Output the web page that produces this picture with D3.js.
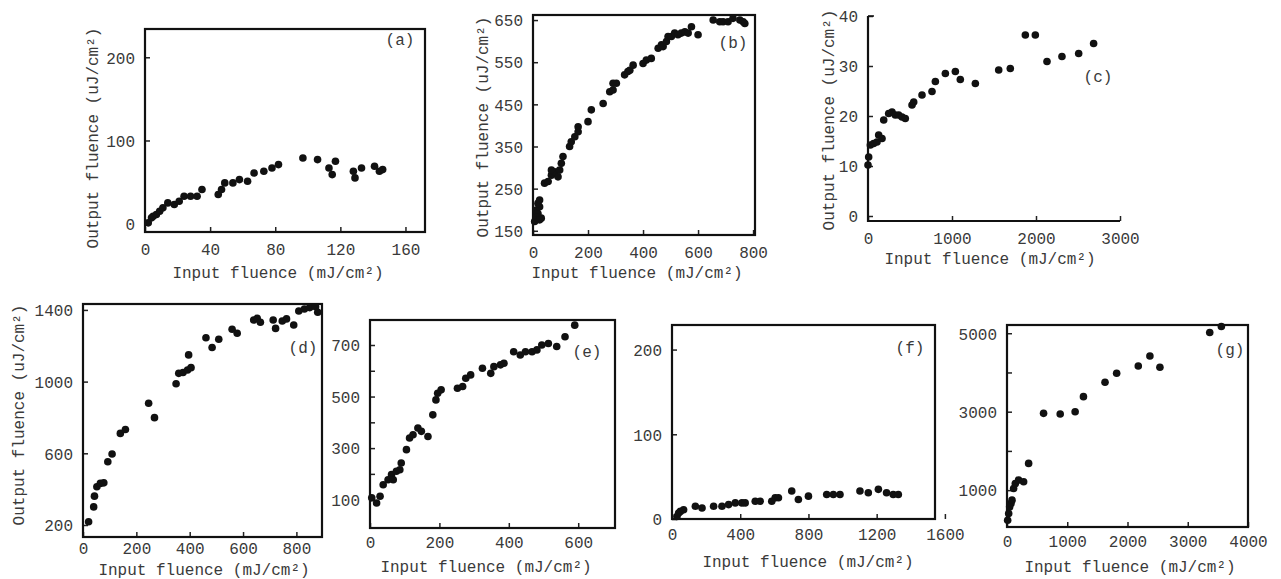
<!DOCTYPE html>
<html>
<head>
<meta charset="utf-8">
<script src="https://cdn.jsdelivr.net/npm/d3@7"></script>
<style>
  body { margin: 0; background: #fff; }
  svg text { font-family: "Liberation Mono", "DejaVu Sans Mono", monospace; fill: #3a3a3a; }
</style>
</head>
<body>
<svg id="chart" width="1281" height="579"></svg>
<script>

// -- DATA

var aX = [2, 4, 5, 7, 9, 11, 14, 18, 21, 24, 28, 32, 35, 45, 47, 49, 54, 58, 63, 67, 73, 78, 82, 97, 106, 113, 115, 117, 128, 129, 133, 141, 144, 146];
var aY = [1, 7, 9, 11, 15, 19, 25, 23, 27, 33, 33, 33, 41, 35, 41, 49, 49, 53, 51, 61, 63, 67, 71, 79, 77, 67, 59, 75, 63, 55, 67, 69, 63, 65];
var aXTicks = [0, 40, 80, 120, 160];
var aYTicks = [0, 100, 200];

var bX = [6, 12, 18, 12, 24, 18, 24, 30, 24, 42, 55, 67, 79, 91, 97, 67, 103, 109, 133, 139, 152, 164, 164, 200, 212, 255, 279, 291, 303, 291, 333, 345, 352, 364, 400, 412, 430, 455, 467, 473, 485, 491, 503, 515, 527, 539, 552, 564, 576, 600, 655, 679, 691, 709, 727, 752, 764, 770];
var bY = [172, 184, 191, 199, 207, 215, 223, 180, 176, 263, 267, 282, 290, 278, 294, 294, 310, 326, 350, 361, 373, 385, 397, 409, 437, 452, 480, 484, 500, 500, 520, 528, 531, 543, 547, 555, 559, 583, 591, 587, 599, 611, 611, 619, 615, 619, 622, 619, 634, 615, 650, 646, 646, 646, 654, 650, 646, 642];
var bXTicks = [0, 200, 400, 600, 800];
var bYTicks = [150, 250, 350, 450, 550, 650];

var cX = [0, 8, 28, 67, 107, 127, 167, 187, 246, 286, 325, 365, 405, 444, 524, 544, 643, 762, 802, 921, 1040, 1099, 1278, 1556, 1694, 1873, 1992, 2131, 2309, 2508, 2686];
var cY = [10.2, 11.8, 14.2, 14.5, 14.8, 16.2, 15.5, 19.2, 20.5, 20.8, 20.2, 20.2, 19.8, 19.5, 22.2, 22.8, 24.2, 24.9, 26.9, 28.5, 28.9, 27.3, 26.5, 29.2, 29.5, 36.2, 36.2, 30.9, 31.9, 32.5, 34.5];
var cXTicks = [0, 1000, 2000, 3000];
var cYTicks = [0, 10, 20, 30, 40];

var dX = [21, 40, 43, 52, 65, 78, 93, 109, 140, 159, 246, 268, 349, 359, 375, 392, 405, 396, 461, 484, 509, 559, 578, 640, 653, 665, 713, 722, 747, 763, 790, 809, 830, 850, 872, 880];
var dY = [218, 301, 361, 413, 432, 435, 553, 596, 711, 733, 879, 799, 988, 1046, 1051, 1065, 1078, 1149, 1245, 1190, 1236, 1292, 1270, 1344, 1353, 1331, 1344, 1297, 1338, 1350, 1316, 1394, 1405, 1413, 1418, 1387];
var dXTicks = [0, 200, 400, 600, 800];
var dYTicks = [200, 600, 1000, 1400];

var eX = [5, 19, 29, 38, 52, 62, 67, 76, 86, 90, 105, 114, 124, 138, 148, 167, 181, 190, 195, 205, 252, 267, 276, 290, 324, 348, 357, 376, 386, 414, 433, 448, 467, 481, 495, 514, 538, 562, 590];
var eY = [107, 87, 113, 158, 177, 197, 177, 210, 216, 242, 294, 339, 352, 378, 365, 345, 429, 487, 513, 526, 532, 539, 571, 584, 610, 590, 616, 623, 629, 674, 661, 674, 674, 681, 700, 706, 694, 732, 777];
var eXTicks = [0, 200, 400, 600];
var eYTicks = [100, 200, 300, 400, 500, 600, 700];
var eYLabels = ["100", "", "300", "", "500", "", "700"];

var fX = [29, 39, 49, 68, 137, 176, 244, 293, 332, 371, 410, 429, 488, 517, 585, 605, 624, 702, 741, 800, 907, 946, 985, 1102, 1151, 1210, 1258, 1297, 1327];
var fY = [3, 7, 9, 11, 15, 13, 15, 15, 17, 19, 19, 19, 21, 21, 21, 25, 25, 33, 23, 27, 29, 29, 29, 33, 31, 35, 31, 29, 29];
var fXTicks = [0, 400, 800, 1200, 1600];
var fYTicks = [0, 100, 200];

var gX = [11, 28, 44, 66, 83, 110, 138, 193, 276, 359, 607, 883, 1131, 1269, 1627, 1820, 2179, 2372, 2538, 3365, 3558];
var gY = [234, 404, 574, 660, 745, 1043, 1170, 1256, 1213, 1681, 2958, 2941, 3000, 3383, 3749, 3979, 4166, 4421, 4132, 5017, 5170];
var gXTicks = [0, 1000, 2000, 3000, 4000];
var gYTicks = [1000, 2000, 3000, 4000, 5000];
var gYLabels = ["1000", "", "3000", "", "5000"];

var X_TITLE = "Input fluence (mJ/cm\u00b2)";
var Y_TITLE = "Output fluence (uJ/cm\u00b2)";

// -- LAYOUT (pixel boxes of each panel in the figure)

var panels = [
  {name: "(a)", x: aX, y: aY, xt: aXTicks, yt: aYTicks, box: [145, 425, 29, 232], xd: [0, 172], yd: [-10, 234],
    frame: true, lab: [400, 45], xTitle: [278, 272], yTitle: [92, 138], pad: 12},
  {name: "(b)", x: bX, y: bY, xt: bXTicks, yt: bYTicks, box: [533, 755, 15, 235], xd: [0, 807], yd: [140, 662],
    frame: true, lab: [733, 48], xTitle: [637, 272], yTitle: [482, 127], pad: 12},
  {name: "(c)", x: cX, y: cY, xt: cXTicks, yt: cYTicks, box: [868, 1120, 16, 221], xd: [0, 3000], yd: [-1, 40],
    frame: false, lab: [1098, 82], xTitle: [990, 258], yTitle: [828, 120], pad: 12},
  {name: "(d)", x: dX, y: dY, xt: dXTicks, yt: dYTicks, box: [83, 322, 304, 537], xd: [0, 896], yd: [133, 1433],
    frame: true, lab: [303, 353], xTitle: [204, 569], yTitle: [18, 415], pad: 6},
  {name: "(e)", x: eX, y: eY, xt: eXTicks, yt: eYTicks, yl: eYLabels, box: [370, 615, 320, 528], xd: [0, 706], yd: [-10, 797],
    frame: true, lab: [587, 357], xTitle: [486, 566], pad: 9},
  {name: "(f)", x: fX, y: fY, xt: fXTicks, yt: fYTicks, box: [672, 935, 325, 519], xd: [0, 1542], yd: [0, 229],
    frame: true, lab: [910, 353], xTitle: [808, 561], pad: 10},
  {name: "(g)", x: gX, y: gY, xt: gXTicks, yt: gYTicks, yl: gYLabels, box: [1007, 1248, 325, 527], xd: [0, 4000], yd: [60, 5210],
    frame: true, lab: [1230, 355], xTitle: [1130, 566], pad: 9}
];

var svg = d3.select("#chart");

function drawPanel(p) {
  var l = p.box[0], r = p.box[1], t = p.box[2], b = p.box[3];
  var x = d3.scaleLinear().domain(p.xd).range([l, r]);
  var y = d3.scaleLinear().domain(p.yd).range([b, t]);
  var g = svg.append("g");

  // axes, ticks pointing inward
  var xAxis = d3.axisBottom(x).tickValues(p.xt).tickSizeInner(-5).tickSizeOuter(0).tickPadding(p.pad).tickFormat(d3.format("d"));
  var yLabels = p.yl;
  var yAxis = d3.axisLeft(y).tickValues(p.yt).tickSizeInner(-5).tickSizeOuter(0).tickPadding(10)
    .tickFormat(function(d, i) { return yLabels ? yLabels[i] : String(d); });

  var gx = g.append("g").attr("transform", "translate(0," + b + ")").call(xAxis);
  var gy = g.append("g").attr("transform", "translate(" + l + ",0)").call(yAxis);
  [gx, gy].forEach(function(a) {
    a.select(".domain").remove();
    a.selectAll(".tick line").attr("stroke", "#222").attr("stroke-width", 1.5);
    a.selectAll("text").style("font-size", "16px").attr("fill", "#3a3a3a");
  });
  gy.selectAll("text").attr("dy", "0.36em");

  // frame / axis lines
  if (p.frame) {
    g.append("rect").attr("x", l).attr("y", t).attr("width", r - l).attr("height", b - t)
      .attr("fill", "none").attr("stroke", "#111").attr("stroke-width", 2.2);
  } else {
    g.append("path").attr("d", "M" + l + "," + t + "V" + b + "H" + r)
      .attr("fill", "none").attr("stroke", "#111").attr("stroke-width", 2.2);
    g.append("line").attr("x1", l).attr("x2", l + 6).attr("y1", t).attr("y2", t).attr("stroke", "#111").attr("stroke-width", 1.5);
  }

  // points
  g.selectAll("circle.pt")
    .data(p.x.map(function(v, i) { return [v, p.y[i]]; }))
    .enter()
    .append("circle")
    .attr("class", "pt")
    .attr("cx", function(d) { return x(d[0]); })
    .attr("cy", function(d) { return y(d[1]); })
    .attr("r", 3.8)
    .attr("fill", "#111");

  // panel label
  g.append("text").attr("x", p.lab[0]).attr("y", p.lab[1]).attr("text-anchor", "middle")
    .style("font-size", "16px").text(p.name);

  // titles
  g.append("text").attr("x", p.xTitle[0]).attr("y", p.xTitle[1]).attr("text-anchor", "middle")
    .attr("dy", "0.35em").style("font-size", "16px").text(X_TITLE);
  if (p.yTitle) {
    g.append("text").attr("text-anchor", "middle").attr("dy", "0.35em")
      .attr("transform", "translate(" + p.yTitle[0] + "," + p.yTitle[1] + ") rotate(-90)")
      .style("font-size", "16px").text(Y_TITLE);
  }
}

for (var i = 0 ; i < panels.length ; i++) {
  drawPanel(panels[i]);
}
</script>
</body>
</html>
